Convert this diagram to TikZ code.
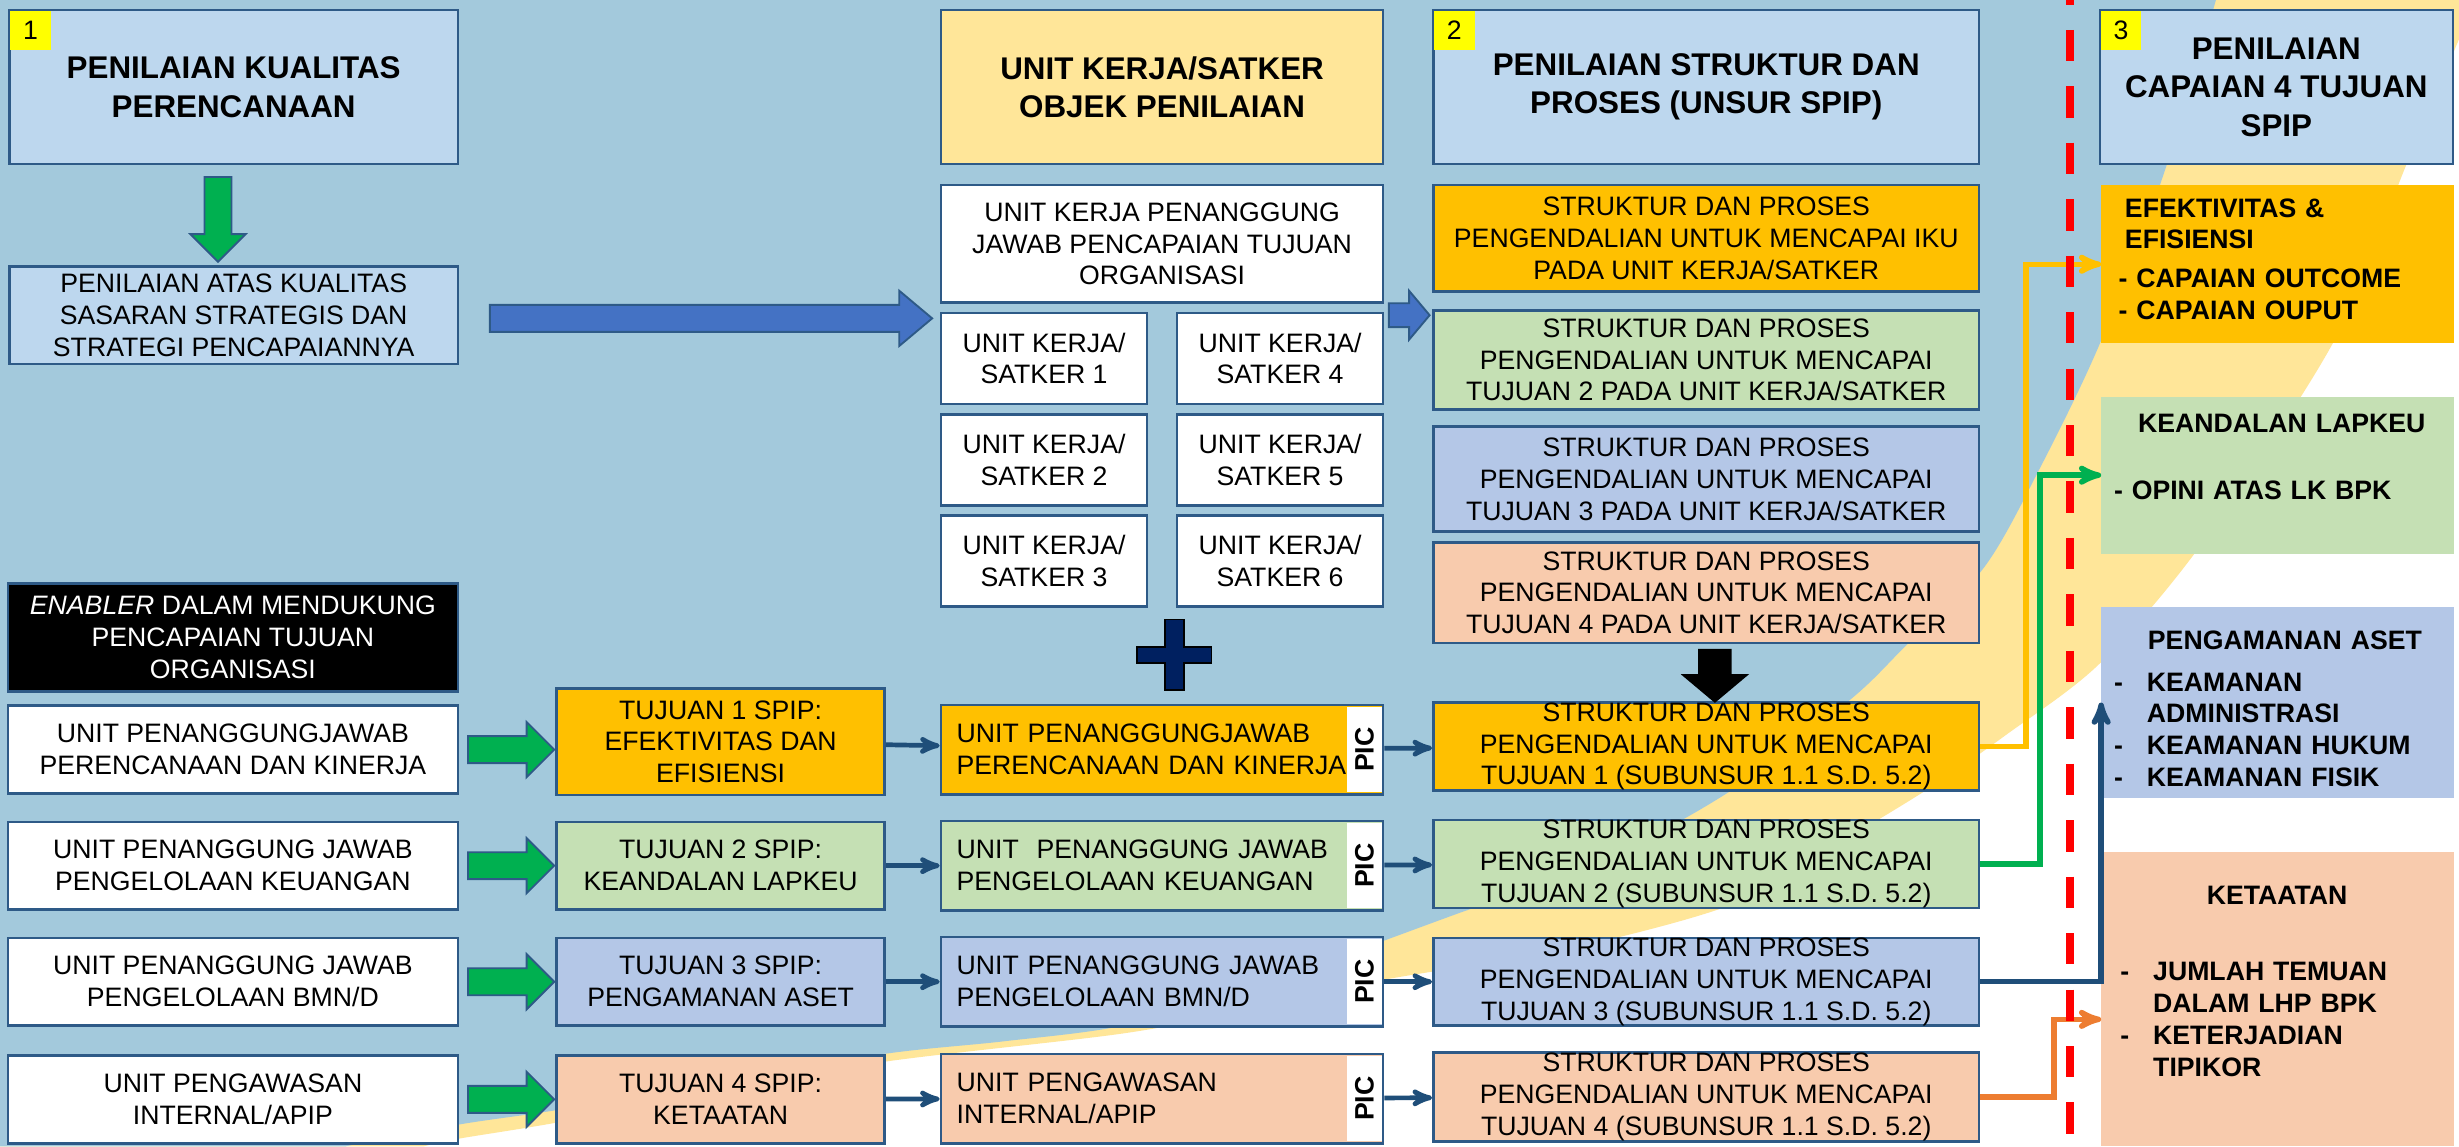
\documentclass[tikz,border=0pt]{standalone}
\usepackage{fontspec}
\setmainfont{Liberation Sans}
\usepackage{tikz}
\usetikzlibrary{arrows,positioning,shapes.arrows}

\definecolor{latar}{HTML}{A3C9DC}
\definecolor{pita}{HTML}{FFE699}
\definecolor{biruJudul}{HTML}{BDD7EE}
\definecolor{oranye}{HTML}{FFC000}
\definecolor{hijauMuda}{HTML}{C5E0B4}
\definecolor{biruMuda}{HTML}{B4C7E7}
\definecolor{persik}{HTML}{F8CBAD}
\definecolor{garis}{HTML}{2E5A87}
\definecolor{biruPanah}{HTML}{4472C4}
\definecolor{hijauPanah}{HTML}{00B050}
\definecolor{biruTua}{HTML}{1F4E79}
\definecolor{jingga}{HTML}{ED7D31}
\definecolor{navy}{HTML}{002060}
\definecolor{kuningTanda}{HTML}{FFFF00}

\newcommand{\hurufisi}{\fontsize{17pt}{20.3pt}\selectfont}
\newcommand{\hurufjudul}{\fontsize{20pt}{24.5pt}\selectfont\bfseries}

\tikzset{
    %Define standard arrow tip
    >=stealth',
    %Define style for boxes
    kotak/.style={
           rectangle,
           draw=garis, line width=1.6pt,
           inner sep=0pt,
           font=\hurufisi,
           align=center},
    judulbox/.style={
           kotak,
           fill=biruJudul,
           minimum height=98pt,
           font=\hurufjudul},
    putih/.style={
           kotak,
           fill=white,
           minimum width=287pt,
           minimum height=56pt},
    tujuan/.style={
           kotak,
           minimum width=209pt,
           minimum height=56pt},
    unitbox/.style={
           kotak,
           minimum width=282pt,
           minimum height=57pt,
           text width=262pt,
           align=left},
    struktur/.style={
           kotak,
           minimum width=348pt},
    satker/.style={
           kotak,
           fill=white,
           minimum width=131.5pt,
           minimum height=58pt},
    hasil/.style={
           rectangle,
           minimum width=225pt,
           inner sep=0pt},
    isi/.style={
           inner sep=0pt,
           anchor=north west,
           align=left,
           font=\hurufisi\bfseries},
    tanda/.style={
           rectangle,
           fill=kuningTanda,
           inner sep=0pt,
           minimum width=26pt,
           minimum height=25pt,
           font=\hurufisi},
    picstrip/.style={
           rectangle,
           fill=white,
           inner sep=0pt,
           minimum width=22pt,
           minimum height=54.5pt,
           font=\hurufisi\bfseries},
    blokpanah/.style={
           single arrow,
           draw=garis, line width=1.2pt,
           inner xsep=0pt,
           inner ysep=8pt,
           single arrow head extend=9pt,
           anchor=tail},
    % Define arrow style
    panah/.style={
           ->,
           line width=3pt,
           color=biruTua},
    alur/.style={
           ->,
           line width=3.5pt}
}

\begin{document}
\begin{tikzpicture}[x=1pt,y=-1pt]

 %background
\useasboundingbox (0,0) rectangle (1568,731);
\fill[white] (0,0) rectangle (1568,731);
\fill[pita] (0,0) -- (1568,0) -- plot[smooth] coordinates {(1568,25) (1534,106) (1488,218) (1403,348) (1339,423) (1280,468) (1228,504) (1160,545) (1101,578) (1000,605) (881,625) (800,643) (716,659) (564,677) (460,696) (354,716) (293,726) (270,731)} -- (0,731) -- cycle;
\fill[latar] (0,0) -- plot[smooth] coordinates {(1413,0) (1380,110) (1339,219) (1300,300) (1265,362) (1215,412) (1180,446) (1104,504) (1020,550) (931,582) (882,600) (800,630) (716,654) (640,664) (564,672) (460,690) (354,708) (293,717) (220,731)} -- (0,731) -- cycle;

 %heading nodes
\node[judulbox, minimum width=286pt] (judul1) at (149,55.5) {PENILAIAN KUALITAS\\PERENCANAAN};
\node[judulbox, fill=pita, minimum width=282pt] (objek) at (741,55.5) {UNIT KERJA/SATKER\\OBJEK PENILAIAN};
\node[judulbox, minimum width=348pt] (judul2) at (1088,55.5) {PENILAIAN STRUKTUR DAN\\PROSES (UNSUR SPIP)};
\node[judulbox, minimum width=225pt] (judul3) at (1451.5,55.5) {PENILAIAN\\CAPAIAN 4 TUJUAN\\SPIP};
\node[tanda, anchor=north west] (no1) at ([xshift=1pt,yshift=-1pt]judul1.north west) {1};
\node[tanda, anchor=north west] (no2) at ([xshift=1pt,yshift=-1pt]judul2.north west) {2};
\node[tanda, anchor=north west] (no3) at ([xshift=1pt,yshift=-1pt]judul3.north west) {3};

 %column 1
\node[kotak, fill=biruJudul, minimum width=286pt, minimum height=62pt] (sasaran) at (149,201) {PENILAIAN ATAS KUALITAS\\SASARAN STRATEGIS DAN\\STRATEGI PENCAPAIANNYA};
\node[kotak, fill=black, text=white, minimum width=287pt, minimum height=69pt] (enabler) at (148.5,406.5) {\textit{ENABLER} DALAM MENDUKUNG\\PENCAPAIAN TUJUAN\\ORGANISASI};

 %column 2
\node[kotak, fill=white, minimum width=282pt, minimum height=75pt] (ukpj) at (741,155.5) {UNIT KERJA PENANGGUNG\\JAWAB PENCAPAIAN TUJUAN\\ORGANISASI};
\node[satker, below right=5pt and 0pt of ukpj.south west] (satker1) {UNIT KERJA/\\SATKER 1};
\node[satker, below=5pt of satker1] (satker2) {UNIT KERJA/\\SATKER 2};
\node[satker, below=5pt of satker2] (satker3) {UNIT KERJA/\\SATKER 3};
\node[satker, below left=5pt and 0pt of ukpj.south east] (satker4) {UNIT KERJA/\\SATKER 4};
\node[satker, below=5pt of satker4] (satker5) {UNIT KERJA/\\SATKER 5};
\node[satker, below=5pt of satker5] (satker6) {UNIT KERJA/\\SATKER 6};

 %column 3
\node[struktur, fill=oranye, minimum height=68pt] (iku) at (1088,152) {STRUKTUR DAN PROSES\\PENGENDALIAN UNTUK MENCAPAI IKU\\PADA UNIT KERJA/SATKER};
\node[struktur, fill=hijauMuda, minimum height=63pt] (sa2) at (1088,229.5) {STRUKTUR DAN PROSES\\PENGENDALIAN UNTUK MENCAPAI\\TUJUAN 2 PADA UNIT KERJA/SATKER};
\node[struktur, fill=biruMuda, minimum height=67pt] (sa3) at (1088,305.5) {STRUKTUR DAN PROSES\\PENGENDALIAN UNTUK MENCAPAI\\TUJUAN 3 PADA UNIT KERJA/SATKER};
\node[struktur, fill=persik, minimum height=64pt] (sa4) at (1088,378) {STRUKTUR DAN PROSES\\PENGENDALIAN UNTUK MENCAPAI\\TUJUAN 4 PADA UNIT KERJA/SATKER};

 %column 4
\node[hasil, fill=oranye, minimum height=101pt] (efek) at (1452.5,168.5) {};
\node[isi, text width=205pt] (efekIsi) at ([xshift=11pt,yshift=-8.5pt]efek.north west) {\hspace*{4pt}EFEKTIVITAS \&\\\hspace*{4pt}EFISIENSI\\[4.5pt]- CAPAIAN OUTCOME\\- CAPAIAN OUPUT};
\node[hasil, fill=hijauMuda, minimum height=100pt] (andal) at (1452.5,303) {};
\node[isi, text width=214pt] (andalIsi) at ([xshift=8pt,yshift=-11pt]andal.north west) {\hfill KEANDALAN LAPKEU\hfill\null\\[22.5pt]- OPINI ATAS LK BPK};
\node[hasil, fill=biruMuda, minimum height=122pt] (aset) at (1452.5,448) {};
\node[isi, text width=218pt] (asetIsi) at ([xshift=8pt,yshift=-15pt]aset.north west) {\hfill PENGAMANAN ASET\hfill\null\\[6.5pt]\makebox[21pt][l]{-}KEAMANAN\\\hspace*{21pt}ADMINISTRASI\\\makebox[21pt][l]{-}KEAMANAN HUKUM\\\makebox[21pt][l]{-}KEAMANAN FISIK};
\node[hasil, fill=persik, minimum height=188pt] (taat) at (1452.5,637) {};
\node[isi, text width=200pt] (taatIsi) at ([xshift=12pt,yshift=-22pt]taat.north west) {\hfill KETAATAN\hfill\null\\[28.5pt]\makebox[21pt][l]{-}JUMLAH TEMUAN\\\hspace*{21pt}DALAM LHP BPK\\\makebox[21pt][l]{-}KETERJADIAN\\\hspace*{21pt}TIPIKOR};

 %rows
\node[putih] (putih1) at (148.5,478) {UNIT PENANGGUNGJAWAB\\PERENCANAAN DAN KINERJA};
\node[tujuan, fill=oranye, minimum height=68pt] (tuj1) at (459.5,473) {TUJUAN 1 SPIP:\\EFEKTIVITAS DAN\\EFISIENSI};
\node[unitbox, fill=oranye] (unit1) at (741,478) {UNIT PENANGGUNGJAWAB\\PERENCANAAN DAN KINERJA};
\node[picstrip, anchor=east] (pic1) at ([xshift=-1.6pt]unit1.east) {\rotatebox{90}{PIC}};
\node[struktur, fill=oranye, minimum height=56pt] (s1) at (1088,476) {STRUKTUR DAN PROSES\\PENGENDALIAN UNTUK MENCAPAI\\TUJUAN 1 (SUBUNSUR 1.1 S.D. 5.2)};

\node[putih] (putih2) at (148.5,552) {UNIT PENANGGUNG JAWAB\\PENGELOLAAN KEUANGAN};
\node[tujuan, fill=hijauMuda] (tuj2) at (459.5,552) {TUJUAN 2 SPIP:\\KEANDALAN LAPKEU};
\node[unitbox, fill=hijauMuda] (unit2) at (741,552) {UNIT\ \ PENANGGUNG JAWAB\\PENGELOLAAN KEUANGAN};
\node[picstrip, anchor=east] (pic2) at ([xshift=-1.6pt]unit2.east) {\rotatebox{90}{PIC}};
\node[struktur, fill=hijauMuda, minimum height=56pt] (s2) at (1088,551) {STRUKTUR DAN PROSES\\PENGENDALIAN UNTUK MENCAPAI\\TUJUAN 2 (SUBUNSUR 1.1 S.D. 5.2)};

\node[putih] (putih3) at (148.5,626) {UNIT PENANGGUNG JAWAB\\PENGELOLAAN BMN/D};
\node[tujuan, fill=biruMuda] (tuj3) at (459.5,626) {TUJUAN 3 SPIP:\\PENGAMANAN ASET};
\node[unitbox, fill=biruMuda] (unit3) at (741,626) {UNIT PENANGGUNG JAWAB\\PENGELOLAAN BMN/D};
\node[picstrip, anchor=east] (pic3) at ([xshift=-1.6pt]unit3.east) {\rotatebox{90}{PIC}};
\node[struktur, fill=biruMuda, minimum height=56pt] (s3) at (1088,626) {STRUKTUR DAN PROSES\\PENGENDALIAN UNTUK MENCAPAI\\TUJUAN 3 (SUBUNSUR 1.1 S.D. 5.2)};

\node[putih] (putih4) at (148.5,701) {UNIT PENGAWASAN\\INTERNAL/APIP};
\node[tujuan, fill=persik] (tuj4) at (459.5,701) {TUJUAN 4 SPIP:\\KETAATAN};
\node[unitbox, fill=persik] (unit4) at (741,700.5) {UNIT PENGAWASAN\\INTERNAL/APIP};
\node[picstrip, anchor=east] (pic4) at ([xshift=-1.6pt]unit4.east) {\rotatebox{90}{PIC}};
\node[struktur, fill=persik, minimum height=57pt] (s4) at (1088,699.5) {STRUKTUR DAN PROSES\\PENGENDALIAN UNTUK MENCAPAI\\TUJUAN 4 (SUBUNSUR 1.1 S.D. 5.2)};

 %block arrows
\node[blokpanah, fill=hijauPanah, minimum height=54pt, rotate=-90] (turun1) at ([xshift=-10pt,yshift=-7pt]judul1.south) {};
\node[blokpanah, fill=biruPanah, minimum height=282pt, single arrow tip angle=80] (kanan1) at ([xshift=19pt,yshift=-2pt]sasaran.east) {};
\node[blokpanah, fill=biruPanah, minimum height=26pt, inner ysep=7pt, single arrow head extend=8pt, single arrow tip angle=100] (kanan2) at (885,201) {};
\node[blokpanah, fill=black, draw=black, minimum height=33pt, inner ysep=9.5pt, single arrow head extend=10pt, single arrow tip angle=100, rotate=-90] (turun2) at ([xshift=5.5pt,yshift=-3pt]sa4.south) {};
\node[blokpanah, fill=hijauPanah, minimum height=55pt] (hp1) at ([xshift=5pt]putih1.east) {};
\node[blokpanah, fill=hijauPanah, minimum height=55pt] (hp2) at ([xshift=5pt]putih2.east) {};
\node[blokpanah, fill=hijauPanah, minimum height=55pt] (hp3) at ([xshift=5pt]putih3.east) {};
\node[blokpanah, fill=hijauPanah, minimum height=55pt] (hp4) at ([xshift=5pt]putih4.east) {};

 %plus
\filldraw[fill=navy, draw=black, line width=1.2pt] (743,395) -- (755,395) -- (755,412.5) -- (772.5,412.5) -- (772.5,422.5) -- (755,422.5) -- (755,440) -- (743,440) -- (743,422.5) -- (725,422.5) -- (725,412.5) -- (743,412.5) -- cycle;

 %edges
 \path[panah]
    (tuj1) edge (unit1)
    (unit1) edge (s1)
    (tuj2) edge (unit2)
    (unit2) edge (s2)
    (tuj3) edge (unit3)
    (unit3) edge (s3)
    (tuj4) edge (unit4)
    (unit4) edge (s4);

\coordinate (taatMasuk) at ([yshift=-13pt]taat.west);
\draw[alur, color=oranye] (s1.east) -- ++(29,0) |- (efek.west);
\draw[alur, color=hijauPanah] (s2.east) -- ++(38,0) |- (andal.west);
\draw[alur, color=biruTua] (s3.east) -| (aset.west);
\draw[alur, color=jingga] (s4.east) -- ++(47,0) |- (taatMasuk);

 %divider
\coordinate (batasAtas) at (1320,0);
\coordinate (batasBawah) at (1320,731);
\draw[red, line width=5pt, dash pattern=on 20pt off 16pt, dash phase=17pt] (batasAtas) -- (batasBawah);

\end{tikzpicture}
\end{document}
